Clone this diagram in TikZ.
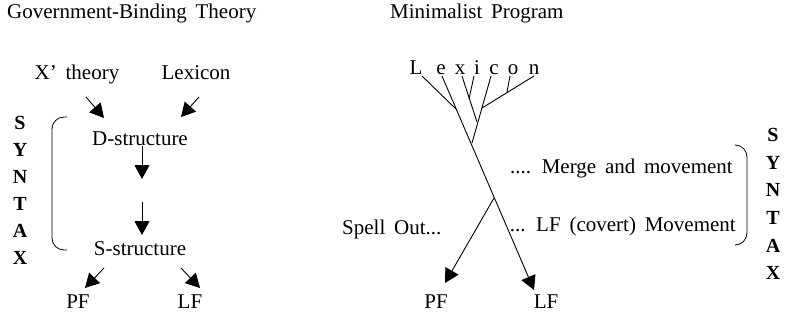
\documentclass[tikz,border=0pt]{standalone}
\usepackage{fontspec}
\setmainfont{Liberation Serif}
\usetikzlibrary{arrows.meta}
\newcommand\mywsp{\spaceskip=0.42em plus 0pt minus 0pt\relax}
\begin{document}
\begin{tikzpicture}[x=1pt,y=-1pt,
  lbl/.style={inner sep=0pt, font=\fontsize{21}{24}\selectfont\mywsp, anchor=base},
  syn/.style={inner sep=0pt, font=\fontsize{20}{22}\selectfont\bfseries},
  arr/.style={line width=0.9pt, -{Triangle[length=14pt,width=15pt]}},
  ln/.style={line width=0.9pt},
  brk/.style={line width=0.8pt, rounded corners=12pt}]
\useasboundingbox (0,0) rectangle (785,324);
% ---------- Government-Binding Theory ----------
\node[lbl, anchor=base west] (gbt) at (7,19) {Government-Binding Theory};
\node[lbl] (xbar) at (77,79) {X’ theory};
\node[lbl] (lex1) at (196,79) {Lexicon};
\node[lbl] (ds) at (140,145) {D-structure};
\node[lbl] (ss) at (140,255) {S-structure};
\node[lbl] (pf1) at (78,308) {PF};
\node[lbl] (lf1) at (190,308) {LF};
\coordinate (a1s) at (86,97);  \coordinate (a1e) at (104,118);
\coordinate (a2s) at (199,97); \coordinate (a2e) at (181,117);
\coordinate (a3s) at (142,146); \coordinate (a3e) at (142,179);
\coordinate (a4s) at (142,202); \coordinate (a4e) at (142,235);
\coordinate (a5s) at (104,268); \coordinate (a5e) at (85,288);
\coordinate (a6s) at (181,268); \coordinate (a6e) at (200,288);
\draw[arr] (a1s) -- (a1e);
\draw[arr] (a2s) -- (a2e);
\draw[arr] (a3s) -- (a3e);
\draw[arr] (a4s) -- (a4e);
\draw[arr] (a5s) -- (a5e);
\draw[arr] (a6s) -- (a6e);
\coordinate (b1t) at (67,117); \coordinate (b1b) at (67,250);
\draw[brk] (b1t) -| (52,183) |- (b1b);
\foreach \l [count=\i from 0] in {S,Y,N,T,A,X}
  \node[syn] (ls\i) at (20,123+27*\i) {\l};
% ---------- Minimalist Program ----------
\node[lbl, anchor=base west] (mp) at (390,19) {Minimalist Program};
\node[lbl] (lL) at (416,74) {L};
\node[lbl] (le) at (441,74) {e};
\node[lbl] (lx) at (460,74) {x};
\node[lbl] (li) at (477,74) {i};
\node[lbl] (lc) at (494,74) {c};
\node[lbl] (lo) at (513,74) {o};
\node[lbl] (ln) at (534,74) {n};
\coordinate (tL) at (422,76);
\coordinate (te) at (442,76);
\coordinate (tx) at (462,76);
\coordinate (ti) at (474,76);
\coordinate (tc) at (491,76);
\coordinate (to) at (510,76);
\coordinate (tn) at (534,76);
\coordinate (jL) at (457,110);
\coordinate (jxi) at (469,99);
\coordinate (jcn) at (482,108);
\coordinate (jon) at (507,92);
\coordinate (jx) at (477,122);
\coordinate (jc) at (472,143);
\coordinate (split) at (494,198);
\coordinate (pftip) at (445,283);
\coordinate (lftip) at (534,290);
\draw[ln] (tL) -- (jL);
\draw[ln] (ti) -- (jxi);
\draw[ln] (tx) -- (jx);
\draw[ln] (tc) -- (jc);
\draw[ln] (tn) -- (jcn);
\draw[ln] (to) -- (jon);
\draw[arr] (te) -- (lftip);
\draw[arr] (split) -- (pftip);
\node[lbl] (pf2) at (436,308) {PF};
\node[lbl] (lf2) at (546,308) {LF};
\node[lbl, anchor=base west] (spell) at (342,234) {Spell Out...};
\node[lbl, anchor=base east] (merge) at (733,173) {.... Merge and movement};
\node[lbl, anchor=base east] (cov) at (736,231) {... LF (covert) Movement};
\coordinate (b2t) at (736,145); \coordinate (b2b) at (736,245);
\draw[brk] (b2t) -| (747,195) |- (b2b);
\foreach \l [count=\i from 0] in {S,Y,N,T,A,X}
  \node[syn] (rs\i) at (773,135+27.6*\i) {\l};
\end{tikzpicture}
\end{document}
